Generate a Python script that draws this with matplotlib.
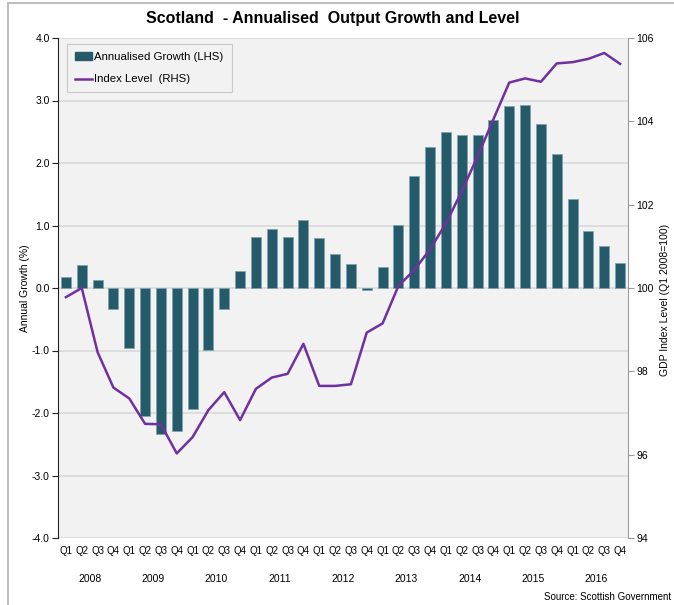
import matplotlib
matplotlib.use("Agg")
import matplotlib.pyplot as plt
from matplotlib.patches import Rectangle, Patch
from matplotlib.lines import Line2D
import numpy as np

plt.rcParams['font.family'] = ['Liberation Sans', 'DejaVu Sans']

years = ["2008", "2009", "2010", "2011", "2012", "2013", "2014", "2015", "2016"]
quarters = ["Q1", "Q2", "Q3", "Q4"]
growth = [0.18, 0.37, 0.13, -0.33, -0.96, -2.05, -2.34, -2.29, -1.93, -0.99, -0.34, 0.28,
          0.82, 0.94, 0.82, 1.09, 0.80, 0.55, 0.38, -0.03, 0.34, 1.01, 1.79, 2.26,
          2.49, 2.45, 2.45, 2.69, 2.91, 2.93, 2.62, 2.15, 1.43, 0.92, 0.68, 0.40]
index_level = [99.78, 100.0, 98.46, 97.61, 97.35, 96.74, 96.73, 96.03, 96.42, 97.07, 97.50, 96.83,
               97.58, 97.85, 97.94, 98.66, 97.65, 97.65, 97.69, 98.93, 99.15, 100.05, 100.43, 100.93,
               101.55, 102.32, 103.16, 104.05, 104.93, 105.03, 104.95, 105.39, 105.42, 105.50, 105.64, 105.38]

bar_color = "#245A69"
line_color = "#7030A0"

fig = plt.figure(figsize=(6.74, 6.05), dpi=100)
W, H = 674, 605
ax = fig.add_axes([58 / W, 1 - 538 / H, (628 - 58) / W, (538 - 38) / H])
ax.set_facecolor("#F2F2F2")

x = np.arange(len(growth))
ax.bar(x, growth, width=0.64, color=bar_color, edgecolor="#7FA3AC", linewidth=0.6, zorder=3)
ax.set_xlim(-0.5, len(growth) - 0.5)
ax.set_ylim(-4, 4)
ax.set_yticks(np.arange(-4, 4.1, 1))
ax.set_yticklabels([f"{v:.1f}" for v in np.arange(-4, 4.1, 1)], fontsize=7.5)
ax.yaxis.grid(True, color="#D9D9D9", linewidth=1.2, zorder=0)
ax.set_axisbelow(True)
ax.set_xticks([])
for s in ["top", "bottom"]:
    ax.spines[s].set_visible(False)
ax.spines["left"].set_color("#222222")
ax.spines["right"].set_visible(False)
ax.tick_params(axis="y", length=4, width=0.8, color="#222222", pad=2)
ax.set_ylabel("Annual Growth (%)", fontsize=7.5)
ax.yaxis.set_label_coords((30 - 58) / (628 - 58), 0.5)

ax2 = ax.twinx()
ax2.plot(x, index_level, color=line_color, linewidth=1.8, zorder=4)
ax2.set_ylim(94, 106)
ax2.set_yticks(np.arange(94, 107, 2))
ax2.set_yticklabels([str(v) for v in range(94, 107, 2)], fontsize=7.5)
for s in ["top", "bottom", "left"]:
    ax2.spines[s].set_visible(False)
ax2.spines["right"].set_color("#9A9A9A")
ax2.tick_params(axis="y", length=4, width=0.8, color="#9A9A9A", pad=2)

# x labels
for i in range(len(growth)):
    ax.text(i, -4.2, quarters[i % 4], ha="center", va="center", fontsize=7)
for j, y in enumerate(years):
    ax.text(j * 4 + 1.5, -4.65, y, ha="center", va="center", fontsize=7.5)

fig.text(333 / W, 1 - 18 / H, "Scotland  - Annualised  Output Growth and Level",
         ha="center", va="center", fontsize=11.5, fontweight="bold")
fig.text(665 / W, 1 - 300 / H, "GDP Index Level (Q1 2008=100)", rotation=90,
         ha="center", va="center", fontsize=7.5)
fig.text(671 / W, 1 - 597 / H, "Source: Scottish Government", ha="right", va="center", fontsize=7)

handles = [Patch(facecolor=bar_color, edgecolor=bar_color),
           Line2D([0], [0], color=line_color, linewidth=1.8)]
leg = ax.legend(handles, ["Annualised Growth (LHS)", "Index Level  (RHS)"],
                loc="upper left", bbox_to_anchor=(0.016, 0.988), fontsize=8.2,
                frameon=True, fancybox=False, facecolor="#F2F2F2", edgecolor="#BFBFBF",
                handlelength=1.5, handletextpad=0.2, borderpad=0.7, labelspacing=1.1,
                borderaxespad=0)
leg.get_frame().set_linewidth(0.8)
leg.set_zorder(10)

fig.patches.append(Rectangle((8 / W, -0.1), 1.2, 1 - 3 / H + 0.1, transform=fig.transFigure,
                             fill=False, edgecolor="#BFBFBF", linewidth=1.5))

fig.savefig("out.png", dpi=100)
